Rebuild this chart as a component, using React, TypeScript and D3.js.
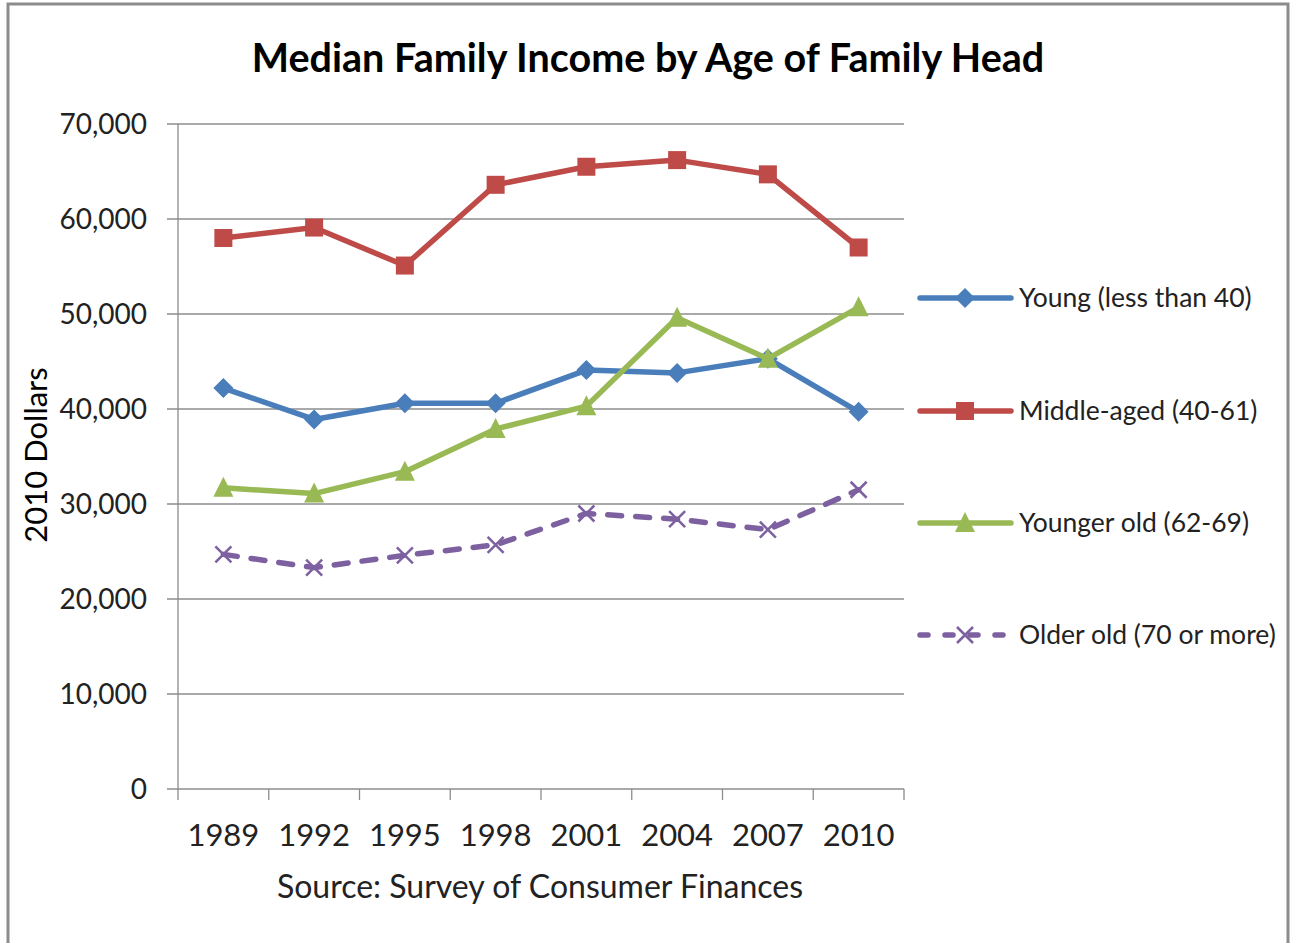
import React from "react";
import * as d3 from "d3";

const years = ["1989", "1992", "1995", "1998", "2001", "2004", "2007", "2010"];
const young = [42200, 38900, 40600, 40600, 44100, 43800, 45300, 39700];
const middleAged = [58000, 59100, 55100, 63600, 65500, 66200, 64700, 57000];
const youngerOld = [31700, 31100, 33400, 37900, 40300, 49600, 45300, 50700];
const olderOld = [24700, 23300, 24600, 25700, 29000, 28400, 27300, 31500];
const yTicks = [0, 10000, 20000, 30000, 40000, 50000, 60000, 70000];

const seriesList = [
  { name: "Young (less than 40)", values: young, color: "#4a7ebb", marker: "diamond", dash: "" },
  { name: "Middle-aged (40-61)", values: middleAged, color: "#be4b48", marker: "square", dash: "" },
  { name: "Younger old (62-69)", values: youngerOld, color: "#98b954", marker: "triangle", dash: "" },
  { name: "Older old (70 or more)", values: olderOld, color: "#7d60a0", marker: "x", dash: "14 14" },
];

const FONT = "Lato, 'Open Sans', sans-serif";

function Marker({ type, x, y, color }: { type: string; x: number; y: number; color: string }) {
  if (type === "diamond") {
    const s = 10;
    return <path d={`M${x},${y - s}L${x + s},${y}L${x},${y + s}L${x - s},${y}Z`} fill={color} />;
  }
  if (type === "square") {
    const s = 9;
    return <rect x={x - s} y={y - s} width={2 * s} height={2 * s} fill={color} />;
  }
  if (type === "triangle") {
    const s = 10;
    return <path d={`M${x},${y - s - 1}L${x + s},${y + s - 1}L${x - s},${y + s - 1}Z`} fill={color} />;
  }
  const s = 8;
  return (
    <path
      d={`M${x - s},${y - s}L${x + s},${y + s}M${x - s},${y + s}L${x + s},${y - s}`}
      stroke={color}
      strokeWidth={2.5}
      fill="none"
    />
  );
}

export default function App() {
  const W = 1291;
  const H = 943;
  const left = 178;
  const right = 904;
  const top = 124;
  const bottom = 789;

  const x = d3.scaleBand<string>().domain(years).range([left, right]).padding(0);
  const y = d3.scaleLinear().domain([0, 70000]).range([bottom, top]);
  const cx = (yr: string) => (x(yr) as number) + x.bandwidth() / 2;
  const line = d3
    .line<number>()
    .x((_, i) => cx(years[i]))
    .y((v) => y(v));

  const legendY = [298, 411, 523, 635];
  const boundaries = years.map((yr) => x(yr) as number).concat([right]);

  return (
    <svg width={W} height={H} style={{ position: "absolute", left: 0, top: 0 }}>
      <rect x={0} y={0} width={W} height={H} fill="#fff" />
      <path d={`M8,${H}L8,4L1288,4L1288,${H}`} fill="none" stroke="#8c8c8c" strokeWidth={3} />
      <text x={648} y={72} textAnchor="middle" fontFamily={FONT} fontWeight="bold" fontSize={39.5} fill="#000">
        Median Family Income by Age of Family Head
      </text>
      {yTicks.map((t) => (
        <g key={t}>
          <line x1={167} x2={right} y1={y(t)} y2={y(t)} stroke="#8c8c8c" strokeWidth={1.3} />
          <text x={147} y={y(t) + 10} textAnchor="end" fontFamily={FONT} fontSize={28} fill="#222">
            {d3.format(",")(t)}
          </text>
        </g>
      ))}
      <line x1={left} x2={left} y1={top} y2={bottom} stroke="#8c8c8c" strokeWidth={1.3} />
      {boundaries.map((b, i) => (
        <line key={i} x1={b} x2={b} y1={bottom} y2={bottom + 11} stroke="#8c8c8c" strokeWidth={1.3} />
      ))}
      {years.map((yr) => (
        <text key={yr} x={cx(yr)} y={846} textAnchor="middle" fontFamily={FONT} fontSize={31} fill="#222">
          {yr}
        </text>
      ))}
      <text x={540} y={898} textAnchor="middle" fontFamily={FONT} fontSize={32} fill="#222">
        Source: Survey of Consumer Finances
      </text>
      <text
        transform={`translate(47,455) rotate(-90)`}
        textAnchor="middle"
        fontFamily={FONT}
        fontSize={31}
        fill="#000"
      >
        2010 Dollars
      </text>
      {seriesList.map((s) => (
        <g key={s.name}>
          <path
            d={line(s.values) || ""}
            fill="none"
            stroke={s.color}
            strokeWidth={5.5}
            strokeDasharray={s.dash || undefined}
            strokeLinejoin="round"
            strokeLinecap="round"
          />
          {s.values.map((v, i) => (
            <Marker key={i} type={s.marker} x={cx(years[i])} y={y(v)} color={s.color} />
          ))}
        </g>
      ))}
      {seriesList.map((s, i) => (
        <g key={s.name}>
          <line
            x1={920}
            x2={1011}
            y1={legendY[i]}
            y2={legendY[i]}
            stroke={s.color}
            strokeWidth={5.5}
            strokeLinecap="round"
            strokeDasharray={s.dash ? "8 17" : undefined}
          />
          <Marker type={s.marker} x={965} y={legendY[i]} color={s.color} />
          <text x={1019} y={legendY[i] + 9} fontFamily={FONT} fontSize={26.5} fill="#222">
            {s.name}
          </text>
        </g>
      ))}
    </svg>
  );
}
